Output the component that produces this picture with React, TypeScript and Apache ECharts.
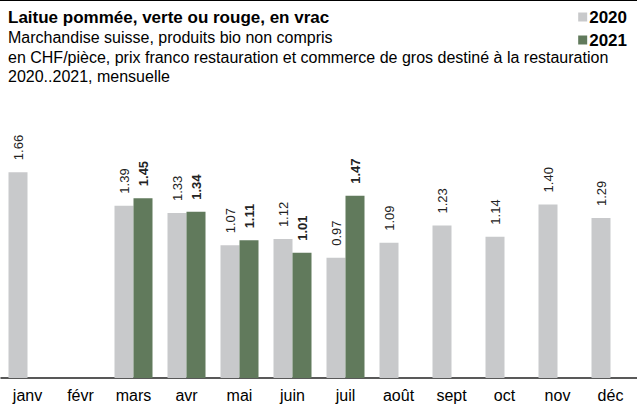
import React, { useEffect, useRef } from "react";
import * as echarts from "echarts";

const months = ["janv", "févr", "mars", "avr", "mai", "juin", "juil", "août", "sept", "oct", "nov", "déc"];
const values2020: (number | null)[] = [1.66, null, 1.39, 1.33, 1.07, 1.12, 0.97, 1.09, 1.23, 1.14, 1.4, 1.29];
const values2021: (number | null)[] = [null, null, 1.45, 1.34, 1.11, 1.01, 1.47, null, null, null, null, null];

const titleText = "Laitue pommée, verte ou rouge, en vrac";
const subtitleLines = [
  "Marchandise suisse, produits bio non compris",
  "en CHF/pièce, prix franco restauration et commerce de gros destiné à la restauration",
  "2020..2021, mensuelle",
];

const FONT = "Liberation Sans, Arial, sans-serif";
const GRAY = "#c8c9cb";
const GREEN = "#617a5c";

export default function App() {
  const ref = useRef<HTMLDivElement>(null);
  useEffect(() => {
    if (!ref.current) return;
    const chart = echarts.init(ref.current, null, { renderer: "svg" });
    const labelBase = {
      show: true,
      position: "top" as const,
      rotate: 90,
      align: "left" as const,
      verticalAlign: "middle" as const,
      distance: 12,
      fontFamily: FONT,
      fontSize: 13,
      color: "#222",
      formatter: (p: any) => (p.value == null ? "" : Number(p.value).toFixed(2)),
    };
    chart.setOption({
      animation: false,
      backgroundColor: "#fff",
      title: [
        {
          text: titleText,
          left: 8,
          top: 7,
          padding: 0,
          textStyle: { fontFamily: FONT, fontSize: 17, fontWeight: "bold", color: "#000", lineHeight: 20 },
        },
        {
          text: subtitleLines.join("\n"),
          left: 8,
          top: 28,
          padding: 0,
          textStyle: { fontFamily: FONT, fontSize: 16, fontWeight: "normal", color: "#000", lineHeight: 19.5 },
        },
      ],
      legend: {
        orient: "vertical",
        right: 10,
        top: 8,
        padding: 0,
        itemWidth: 9,
        itemHeight: 9,
        itemGap: 5,
        icon: "rect",
        textStyle: { fontFamily: FONT, fontSize: 17, fontWeight: "bold", color: "#000", lineHeight: 18, padding: [0, 0, 0, -3] },
        data: ["2020", "2021"],
      },
      graphic: [
        { type: "line", shape: { x1: 0, y1: 0.5, x2: 637, y2: 0.5 }, style: { stroke: "#000", lineWidth: 1 } },
      ],
      grid: { left: 1, right: 0, top: 130, bottom: 31, containLabel: false },
      xAxis: {
        type: "category",
        data: months,
        axisLine: { lineStyle: { color: "#222", width: 1.5 } },
        axisTick: { show: false },
        axisLabel: { fontFamily: FONT, fontSize: 16, color: "#000", margin: 9, interval: 0 },
      },
      yAxis: {
        type: "value",
        min: 0,
        max: 2,
        show: false,
        splitLine: { show: false },
      },
      series: [
        {
          name: "2020",
          type: "bar",
          data: values2020,
          barWidth: 19,
          barGap: "0%",
          itemStyle: { color: GRAY },
          label: { ...labelBase, fontWeight: "normal" },
        },
        {
          name: "2021",
          type: "bar",
          data: values2021,
          barWidth: 19,
          barGap: "0%",
          itemStyle: { color: GREEN },
          label: { ...labelBase, fontWeight: "bold" },
        },
      ],
    });
    return () => chart.dispose();
  }, []);
  return <div ref={ref} style={{ width: 637, height: 409, position: "absolute", left: 0, top: 0 }} />;
}
